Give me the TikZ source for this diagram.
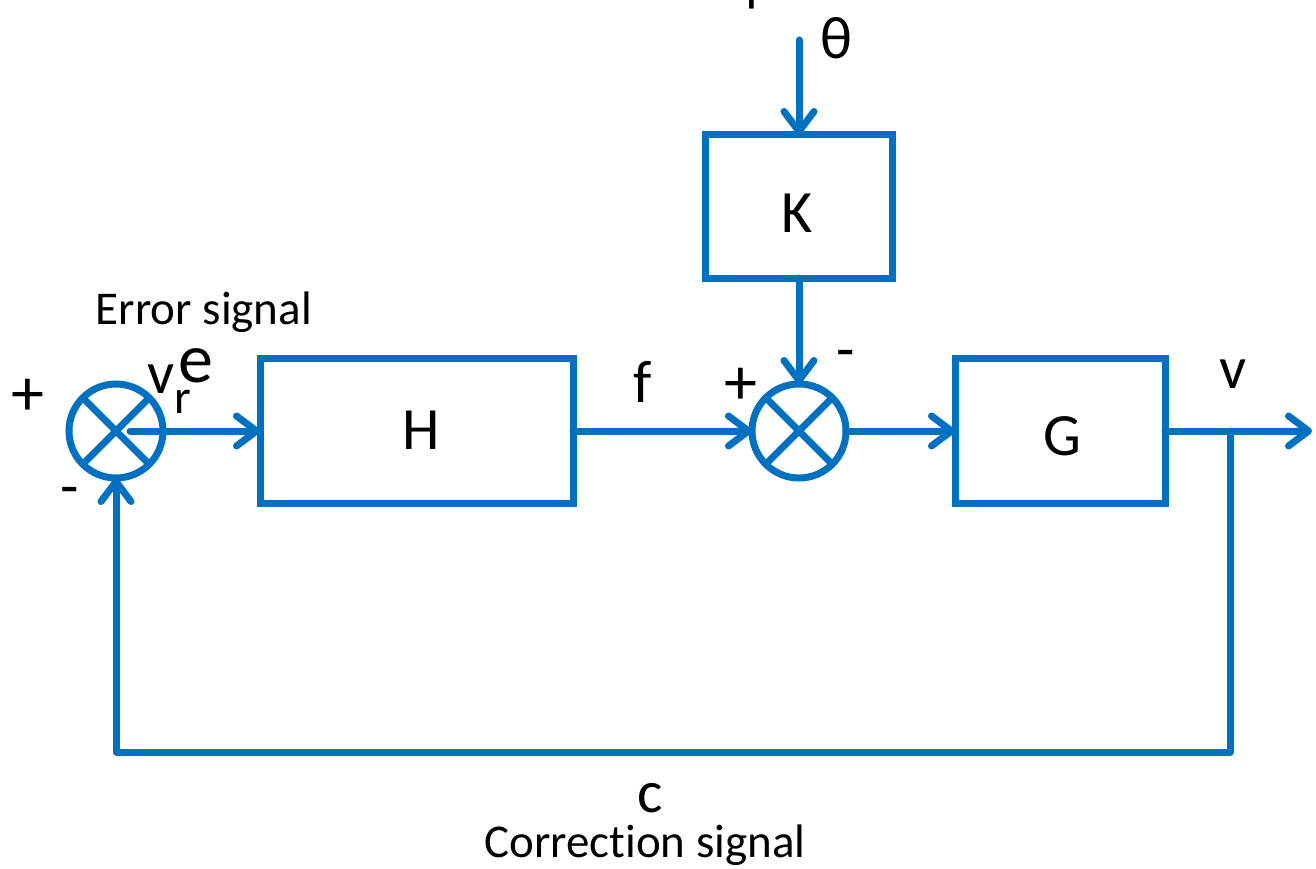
\documentclass[tikz,border=0pt]{standalone}
\usepackage{fontspec}
\setmainfont{Carlito}[Ligatures=NoCommon]
\usetikzlibrary{arrows.meta}
\definecolor{lineblue}{HTML}{0070C0}
\begin{document}
\begin{tikzpicture}[x=1pt,y=-1pt,
  every node/.style={inner sep=0pt,outer sep=0pt},
  wire/.style={draw=lineblue, line width=7pt, line cap=round, line join=round},
  flow/.style={wire, -{Straight Barb[length=20pt,width=30pt,round]}},
  blockbox/.style={draw=lineblue, line width=7pt, rectangle},
  sumjct/.style={draw=lineblue, line width=7pt, circle, minimum size=94pt},
  biglabel/.style={font=\fontsize{60}{72}\selectfont},
  signlabel/.style={font=\fontsize{66}{78}\selectfont},
  smalllabel/.style={font=\fontsize{47}{56}\selectfont}]
\useasboundingbox (0,0) rectangle (1316,869);
\clip (0,0) rectangle (1316,869);

% blocks
\node[blockbox, minimum width=313pt, minimum height=145pt] (H) at (416.5,431) {};
\node[blockbox, minimum width=187pt, minimum height=143pt] (K) at (799,206.5) {};
\node[blockbox, minimum width=210pt, minimum height=145pt] (G) at (1060,431) {};
\node[biglabel] (Hlab) at (421,430) {H};
\node[biglabel] (Klab) at (797,213) {K};
\node[biglabel] (Glab) at (1062,436) {G};

% summing junctions
\node[sumjct] (s1) at (116,431) {};
\node[sumjct] (s2) at (799,431) {};
\foreach \s in {s1,s2} {
  \draw[wire, line cap=butt] (\s.45) -- (\s.225);
  \draw[wire, line cap=butt] (\s.135) -- (\s.315);
}

% signal flow
\coordinate (thetain) at (799,40);
\coordinate (out) at (1312,431);
\coordinate (tap) at (1230,431);
\coordinate (corner) at (1230,752);
\draw[flow] ([xshift=14pt]s1.center) -- (H.west);
\draw[flow] (H.east) -- (s2.west);
\draw[flow] (thetain) -- (K.north);
\draw[flow] (K.south) -- (s2.north);
\draw[flow] (s2.east) -- (G.west);
\draw[flow] (G.east) -- (out);
\draw[flow] (tap) -- (corner) -| (s1.south);

% labels
\node[biglabel] (theta) at (836,38) {θ};
\node[signlabel] (topplus) at (752,-4) {+};
\node[smalllabel] (err) at (204,312) {Error signal};
\node[anchor=base west] (vin) at (147,393)
  {\fontsize{60}{72}\selectfont v\rlap{\raisebox{-20pt}{\fontsize{48}{56}\selectfont r}}\kern4pt\raisebox{11pt}{\fontsize{70}{80}\selectfont e}};
\node[signlabel] (p1) at (28,397) {+};
\node[biglabel] (m1) at (70,497) {-};
\node[biglabel] (flab) at (643,382) {f};
\node[signlabel] (p2) at (741,386) {+};
\node[biglabel] (m2) at (846,360) {-};
\node[biglabel] (vout) at (1233,374) {v};
\node[biglabel, anchor=base] (clab) at (650,812) {c};
\node[smalllabel, anchor=base] (corr) at (645,857) {Correction signal};
\end{tikzpicture}
\end{document}
